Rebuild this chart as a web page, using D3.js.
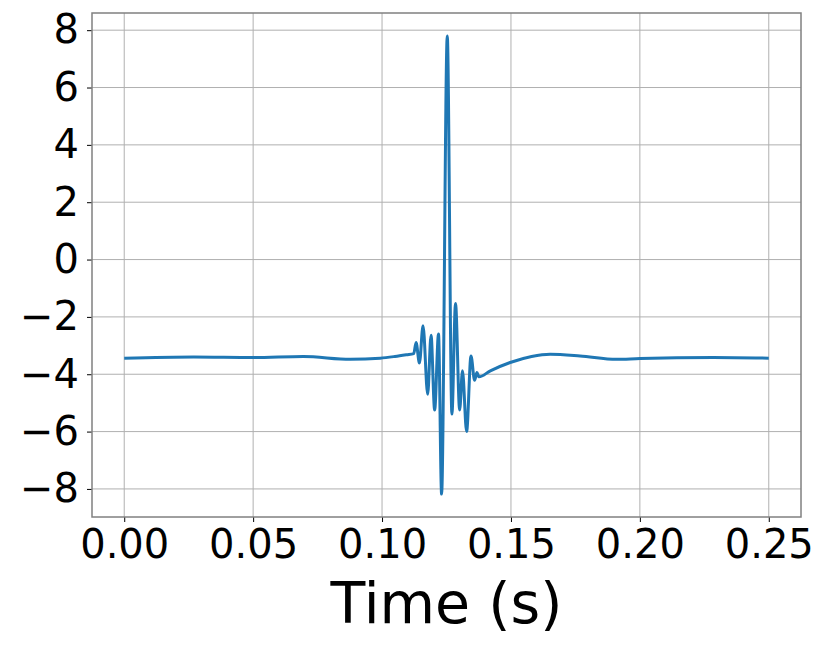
<!DOCTYPE html>
<html><head><meta charset="utf-8">
<script src="https://cdn.jsdelivr.net/npm/d3@7"></script>
<style>body{margin:0;background:#fff;} text{font-family:"DejaVu Sans",sans-serif;}</style>
</head><body>
<svg id="c" width="830" height="650"></svg>
<script>
const times = [0.0, 0.027, 0.05, 0.0695, 0.0877, 0.0993, 0.105, 0.1095, 0.1123,
  0.1132, 0.1145, 0.1159, 0.1177, 0.1190, 0.1204, 0.1219, 0.1231, 0.1253, 0.1271,
  0.1285, 0.1301, 0.1312, 0.1328, 0.1345, 0.1359, 0.1368, 0.1376, 0.1420, 0.1497,
  0.1580, 0.1652, 0.1768, 0.1910, 0.2001, 0.2285, 0.25];
const values = [-3.44, -3.40, -3.42, -3.38, -3.48, -3.44, -3.38, -3.32, -3.28,
  -2.89, -3.61, -2.31, -4.70, -2.64, -5.25, -2.60, -8.18, 7.80, -5.39,
  -1.53, -5.25, -3.88, -6.00, -3.36, -4.21, -3.94, -4.09, -3.88, -3.59,
  -3.38, -3.30, -3.36, -3.48, -3.45, -3.42, -3.44];
const xTicks = [0.00, 0.05, 0.10, 0.15, 0.20, 0.25];
const yTicks = [-8, -6, -4, -2, 0, 2, 4, 6, 8];
const xLabel = "Time (s)";

const data = times.map((t, i) => ({t, v: values[i]}));
const L = 92, R = 801, T = 13, B = 517;
const svg = d3.select("#c");
const [x0, x1] = d3.extent(times), [y0, y1] = d3.extent(values);
const mx = (x1 - x0) * 0.05, my = (y1 - y0) * 0.05;
const x = d3.scaleLinear().domain([x0 - mx, x1 + mx]).range([L, R]);
const y = d3.scaleLinear().domain([y0 - my, y1 + my]).range([B, T]);

// grid
svg.append("g").selectAll("line").data(xTicks).join("line")
  .attr("x1", d => x(d)).attr("x2", d => x(d)).attr("y1", T).attr("y2", B)
  .attr("stroke", "#b0b0b0").attr("stroke-width", 1);
svg.append("g").selectAll("line").data(yTicks).join("line")
  .attr("x1", L).attr("x2", R).attr("y1", d => y(d)).attr("y2", d => y(d))
  .attr("stroke", "#b0b0b0").attr("stroke-width", 1);

// line
svg.append("path").datum(data)
  .attr("d", d3.line().x(d => x(d.t)).y(d => y(d.v)).curve(d3.curveMonotoneX))
  .attr("fill", "none").attr("stroke", "#1f77b4").attr("stroke-width", 3)
  .attr("stroke-linejoin", "round");

// axes
const xa = svg.append("g").attr("transform", `translate(0,${B})`)
  .call(d3.axisBottom(x).tickValues(xTicks).tickFormat(d3.format(".2f")).tickSize(5).tickPadding(8));
const ya = svg.append("g").attr("transform", `translate(${L},0)`)
  .call(d3.axisLeft(y).tickValues(yTicks).tickSize(5).tickPadding(8));
[xa, ya].forEach(a => {
  a.select(".domain").remove();
  a.selectAll("text").attr("font-size", 40).attr("fill", "#000").attr("font-family", "DejaVu Sans");
  a.selectAll("line").attr("stroke", "#000");
});
svg.append("rect").attr("x", L).attr("y", T).attr("width", R - L).attr("height", B - T)
  .attr("fill", "none").attr("stroke", "#808080").attr("stroke-width", 1.5);

svg.append("text").attr("x", (L + R) / 2).attr("y", 623).attr("text-anchor", "middle")
  .attr("font-size", 57).attr("fill", "#000").text(xLabel);
</script>
</body></html>
